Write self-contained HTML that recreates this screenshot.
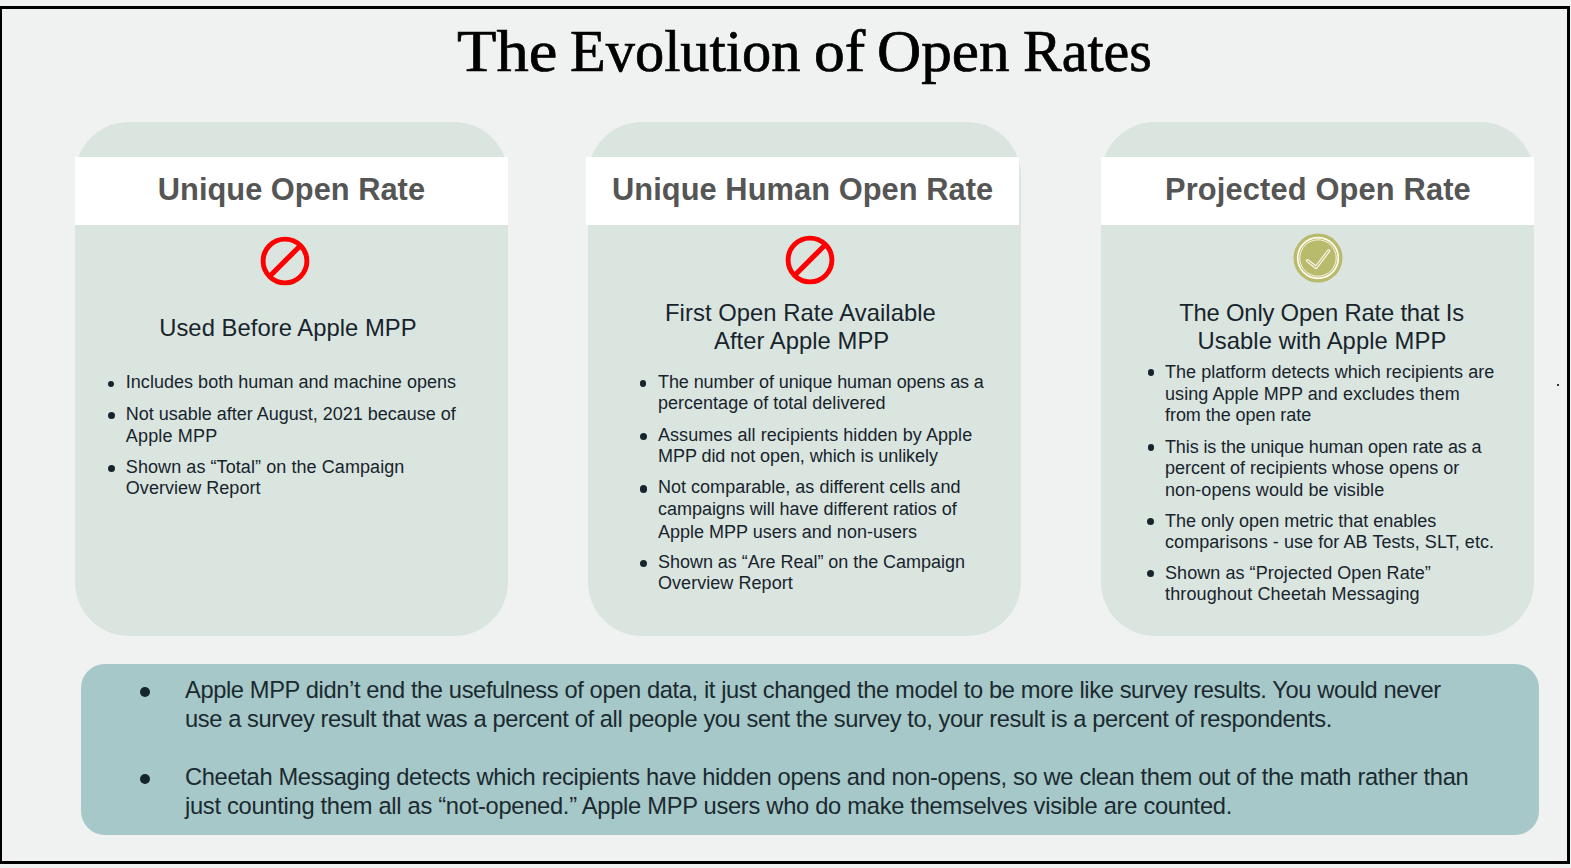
<!DOCTYPE html>
<html><head><meta charset="utf-8"><title>The Evolution of Open Rates</title><style>
html,body{margin:0;padding:0;}
body{width:1571px;height:868px;position:relative;overflow:hidden;background:#f0f2f1;}
.frame{position:absolute;left:-1px;top:6px;width:1571px;height:858px;box-sizing:border-box;border:3px solid #000;}
.t{position:absolute;white-space:nowrap;}
.card{position:absolute;top:122px;height:514px;background:#dbe5e0;border-radius:54px;}
.band{position:absolute;top:157px;height:68px;background:#ffffff;}
.ic{position:absolute;}
.dot{position:absolute;border-radius:50%;background:#17242c;}
.box{position:absolute;left:81px;top:664px;width:1458px;height:171px;background:#a6c8c8;border-radius:24px;}
</style></head>
<body><div class="frame"></div>
<div class="card" style="left:75px;width:433px"></div>
<div class="band" style="left:75px;width:433px"></div>
<div class="card" style="left:588px;width:433px"></div>
<div class="band" style="left:586px;width:433px"></div>
<div class="card" style="left:1101px;width:433px"></div>
<div class="band" style="left:1101px;width:433px"></div>
<svg class="ic" style="left:259.0px;top:234.5px" width="52" height="52" viewBox="0 0 52 52"><circle cx="26" cy="26" r="21.9" fill="none" stroke="#ff0000" stroke-width="4.9"/><line x1="41" y1="11" x2="11" y2="41" stroke="#ff0000" stroke-width="5.2"/></svg>
<svg class="ic" style="left:784.4px;top:234.39999999999998px" width="52" height="52" viewBox="0 0 52 52"><circle cx="26" cy="26" r="21.9" fill="none" stroke="#ff0000" stroke-width="4.9"/><line x1="41" y1="11" x2="11" y2="41" stroke="#ff0000" stroke-width="5.2"/></svg>
<svg class="ic" style="left:1291.9px;top:232px" width="52" height="52" viewBox="0 0 52 52"><circle cx="26" cy="26" r="24.5" fill="#b8ba6c"/><circle cx="26" cy="26" r="20.3" fill="none" stroke="#fffdf0" stroke-width="1.7"/><circle cx="26" cy="26" r="18.2" fill="none" stroke="#fffdf0" stroke-width="0.9"/><path d="M15.6 28.8 L24.0 35.4 L36.6 18.9" fill="none" stroke="#fffdf0" stroke-width="3.3" stroke-linecap="round" stroke-linejoin="round"/><path d="M15.6 28.8 L24.0 35.4 L36.6 18.9" fill="none" stroke="#b8ba6c" stroke-width="1.1" stroke-linecap="round" stroke-linejoin="round"/></svg>
<div class="t" style="top:172.05px;font-size:30.8px;line-height:36.96px;font-weight:bold;color:#555555;font-family:'Liberation Sans',sans-serif;letter-spacing:0.02px;left:157.79999999999993px;">Unique Open Rate</div>
<div class="t" style="top:172.05px;font-size:30.8px;line-height:36.96px;font-weight:bold;color:#555555;font-family:'Liberation Sans',sans-serif;letter-spacing:0.062px;left:612.0px;">Unique Human Open Rate</div>
<div class="t" style="top:172.05px;font-size:30.8px;line-height:36.96px;font-weight:bold;color:#555555;font-family:'Liberation Sans',sans-serif;letter-spacing:0.156px;left:1165.0px;">Projected Open Rate</div>
<div class="t" style="top:15.89px;font-size:59px;line-height:70.8px;font-weight:normal;color:#000;font-family:'Liberation Serif',sans-serif;letter-spacing:0px;-webkit-text-stroke:0.7px #000;transform:scaleX(1.0933);transform-origin:0 0;left:457.0px;">The</div>
<div class="t" style="top:15.89px;font-size:59px;line-height:70.8px;font-weight:normal;color:#000;font-family:'Liberation Serif',sans-serif;letter-spacing:0px;-webkit-text-stroke:0.7px #000;transform:scaleX(0.9905);transform-origin:0 0;left:570.4000000000001px;">Evolution</div>
<div class="t" style="top:15.89px;font-size:59px;line-height:70.8px;font-weight:normal;color:#000;font-family:'Liberation Serif',sans-serif;letter-spacing:0px;-webkit-text-stroke:0.7px #000;transform:scaleX(1.0439);transform-origin:0 0;left:814.1999999999998px;">of</div>
<div class="t" style="top:15.89px;font-size:59px;line-height:70.8px;font-weight:normal;color:#000;font-family:'Liberation Serif',sans-serif;letter-spacing:0px;-webkit-text-stroke:0.7px #000;transform:scaleX(1.0376);transform-origin:0 0;left:876.5999999999999px;">Open</div>
<div class="t" style="top:15.89px;font-size:59px;line-height:70.8px;font-weight:normal;color:#000;font-family:'Liberation Serif',sans-serif;letter-spacing:0px;-webkit-text-stroke:0.7px #000;transform:scaleX(0.9836);transform-origin:0 0;left:1022.8000000000002px;">Rates</div>
<div class="t" style="top:313.77px;font-size:23.8px;line-height:28.56px;font-weight:normal;color:#17242c;font-family:'Liberation Sans',sans-serif;letter-spacing:0.04px;left:159.20000000000007px;">Used Before Apple MPP</div>
<div class="t" style="top:299.07px;font-size:23.8px;line-height:28.56px;font-weight:normal;color:#17242c;font-family:'Liberation Sans',sans-serif;letter-spacing:0.058px;left:665.0px;">First Open Rate Available</div>
<div class="t" style="top:327.17px;font-size:23.8px;line-height:28.56px;font-weight:normal;color:#17242c;font-family:'Liberation Sans',sans-serif;letter-spacing:0.043px;left:714.0px;">After Apple MPP</div>
<div class="t" style="top:299.07px;font-size:23.8px;line-height:28.56px;font-weight:normal;color:#17242c;font-family:'Liberation Sans',sans-serif;letter-spacing:-0.192px;left:1179.2000000000012px;">The Only Open Rate that Is</div>
<div class="t" style="top:327.17px;font-size:23.8px;line-height:28.56px;font-weight:normal;color:#17242c;font-family:'Liberation Sans',sans-serif;letter-spacing:0.08px;left:1197.3999999999994px;">Usable with Apple MPP</div>
<div class="t" style="top:372.06px;font-size:18px;line-height:21.8px;font-weight:normal;color:#17242c;font-family:'Liberation Sans',sans-serif;letter-spacing:0.028px;left:125.8px;">Includes both human and machine opens</div>
<div class="dot" style="left:108.10px;top:380.50px;width:6.4px;height:6.4px"></div>
<div class="t" style="top:403.66px;font-size:18px;line-height:21.8px;font-weight:normal;color:#17242c;font-family:'Liberation Sans',sans-serif;letter-spacing:-0.01px;left:125.8px;">Not usable after August, 2021 because of</div>
<div class="t" style="top:425.76px;font-size:18px;line-height:21.8px;font-weight:normal;color:#17242c;font-family:'Liberation Sans',sans-serif;letter-spacing:0.162px;left:125.8px;">Apple MPP</div>
<div class="dot" style="left:107.60px;top:411.60px;width:7.4px;height:7.4px"></div>
<div class="t" style="top:456.56px;font-size:18px;line-height:21.8px;font-weight:normal;color:#17242c;font-family:'Liberation Sans',sans-serif;letter-spacing:0.077px;left:125.8px;">Shown as “Total” on the Campaign</div>
<div class="t" style="top:478.36px;font-size:18px;line-height:21.8px;font-weight:normal;color:#17242c;font-family:'Liberation Sans',sans-serif;letter-spacing:0.05px;left:125.8px;">Overview Report</div>
<div class="dot" style="left:107.60px;top:464.50px;width:7.4px;height:7.4px"></div>
<div class="t" style="top:371.86px;font-size:18px;line-height:21.8px;font-weight:normal;color:#17242c;font-family:'Liberation Sans',sans-serif;letter-spacing:-0.093px;left:658px;">The number of unique human opens as a</div>
<div class="t" style="top:393.36px;font-size:18px;line-height:21.8px;font-weight:normal;color:#17242c;font-family:'Liberation Sans',sans-serif;letter-spacing:0.011px;left:658px;">percentage of total delivered</div>
<div class="dot" style="left:640.10px;top:380.30px;width:6.4px;height:6.4px"></div>
<div class="t" style="top:424.86px;font-size:18px;line-height:21.8px;font-weight:normal;color:#17242c;font-family:'Liberation Sans',sans-serif;letter-spacing:0.053px;left:658px;">Assumes all recipients hidden by Apple</div>
<div class="t" style="top:446.16px;font-size:18px;line-height:21.8px;font-weight:normal;color:#17242c;font-family:'Liberation Sans',sans-serif;letter-spacing:-0.056px;left:658px;">MPP did not open, which is unlikely</div>
<div class="dot" style="left:639.60px;top:432.80px;width:7.4px;height:7.4px"></div>
<div class="t" style="top:477.36px;font-size:18px;line-height:21.8px;font-weight:normal;color:#17242c;font-family:'Liberation Sans',sans-serif;letter-spacing:0.016px;left:658px;">Not comparable, as different cells and</div>
<div class="t" style="top:499.16px;font-size:18px;line-height:21.8px;font-weight:normal;color:#17242c;font-family:'Liberation Sans',sans-serif;letter-spacing:-0.029px;left:658px;">campaigns will have different ratios of</div>
<div class="t" style="top:521.56px;font-size:18px;line-height:21.8px;font-weight:normal;color:#17242c;font-family:'Liberation Sans',sans-serif;letter-spacing:0.005px;left:658px;">Apple MPP users and non-users</div>
<div class="dot" style="left:639.60px;top:485.30px;width:7.4px;height:7.4px"></div>
<div class="t" style="top:551.66px;font-size:18px;line-height:21.8px;font-weight:normal;color:#17242c;font-family:'Liberation Sans',sans-serif;letter-spacing:-0.037px;left:658px;">Shown as “Are Real” on the Campaign</div>
<div class="t" style="top:573.06px;font-size:18px;line-height:21.8px;font-weight:normal;color:#17242c;font-family:'Liberation Sans',sans-serif;letter-spacing:0.05px;left:658px;">Overview Report</div>
<div class="dot" style="left:639.60px;top:559.60px;width:7.4px;height:7.4px"></div>
<div class="t" style="top:361.66px;font-size:18px;line-height:21.8px;font-weight:normal;color:#17242c;font-family:'Liberation Sans',sans-serif;letter-spacing:0.027px;left:1165px;">The platform detects which recipients are</div>
<div class="t" style="top:383.66px;font-size:18px;line-height:21.8px;font-weight:normal;color:#17242c;font-family:'Liberation Sans',sans-serif;letter-spacing:0.058px;left:1165px;">using Apple MPP and excludes them</div>
<div class="t" style="top:405.46px;font-size:18px;line-height:21.8px;font-weight:normal;color:#17242c;font-family:'Liberation Sans',sans-serif;letter-spacing:-0.05px;left:1165px;">from the open rate</div>
<div class="dot" style="left:1147.50px;top:369.30px;width:6.4px;height:6.4px"></div>
<div class="t" style="top:436.66px;font-size:18px;line-height:21.8px;font-weight:normal;color:#17242c;font-family:'Liberation Sans',sans-serif;letter-spacing:-0.122px;left:1165px;">This is the unique human open rate as a</div>
<div class="t" style="top:458.46px;font-size:18px;line-height:21.8px;font-weight:normal;color:#17242c;font-family:'Liberation Sans',sans-serif;letter-spacing:0.0px;left:1165px;">percent of recipients whose opens or</div>
<div class="t" style="top:479.76px;font-size:18px;line-height:21.8px;font-weight:normal;color:#17242c;font-family:'Liberation Sans',sans-serif;letter-spacing:0.08px;left:1165px;">non-opens would be visible</div>
<div class="dot" style="left:1147.50px;top:444.30px;width:6.4px;height:6.4px"></div>
<div class="t" style="top:510.86px;font-size:18px;line-height:21.8px;font-weight:normal;color:#17242c;font-family:'Liberation Sans',sans-serif;letter-spacing:0.005px;left:1165px;">The only open metric that enables</div>
<div class="t" style="top:532.36px;font-size:18px;line-height:21.8px;font-weight:normal;color:#17242c;font-family:'Liberation Sans',sans-serif;letter-spacing:0.065px;left:1165px;">comparisons - use for AB Tests, SLT, etc.</div>
<div class="dot" style="left:1147.00px;top:518.00px;width:7.4px;height:7.4px"></div>
<div class="t" style="top:562.66px;font-size:18px;line-height:21.8px;font-weight:normal;color:#17242c;font-family:'Liberation Sans',sans-serif;letter-spacing:0.059px;left:1165px;">Shown as “Projected Open Rate”</div>
<div class="t" style="top:584.16px;font-size:18px;line-height:21.8px;font-weight:normal;color:#17242c;font-family:'Liberation Sans',sans-serif;letter-spacing:0.128px;left:1165px;">throughout Cheetah Messaging</div>
<div class="dot" style="left:1147.00px;top:569.80px;width:7.4px;height:7.4px"></div>
<div class="box"></div>
<div class="t" style="top:676.07px;font-size:23.7px;line-height:28.44px;font-weight:normal;color:#1b2a30;font-family:'Liberation Sans',sans-serif;letter-spacing:-0.385px;left:185px;">Apple MPP didn’t end the usefulness of open data, it just changed the model to be more like survey results. You would never</div>
<div class="t" style="top:705.27px;font-size:23.7px;line-height:28.44px;font-weight:normal;color:#1b2a30;font-family:'Liberation Sans',sans-serif;letter-spacing:-0.405px;left:185px;">use a survey result that was a percent of all people you sent the survey to, your result is a percent of respondents.</div>
<div class="t" style="top:762.77px;font-size:23.7px;line-height:28.44px;font-weight:normal;color:#1b2a30;font-family:'Liberation Sans',sans-serif;letter-spacing:-0.334px;left:185px;">Cheetah Messaging detects which recipients have hidden opens and non-opens, so we clean them out of the math rather than</div>
<div class="t" style="top:791.57px;font-size:23.7px;line-height:28.44px;font-weight:normal;color:#1b2a30;font-family:'Liberation Sans',sans-serif;letter-spacing:-0.286px;left:185px;">just counting them all as “not-opened.” Apple MPP users who do make themselves visible are counted.</div>
<div class="dot" style="left:139.5px;top:687px;width:10px;height:10px;background:#14262c"></div>
<div class="dot" style="left:139.5px;top:773.5px;width:10px;height:10px;background:#14262c"></div>
<div style="position:absolute;left:1557px;top:384px;width:1.5px;height:1.5px;background:#333"></div>
</body></html>
